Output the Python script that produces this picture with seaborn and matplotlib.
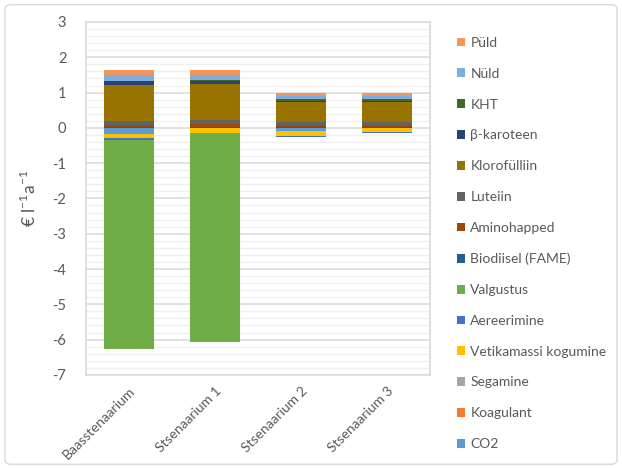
import numpy as np
import pandas as pd
import matplotlib
matplotlib.use("Agg")
import matplotlib.pyplot as plt
from matplotlib.patches import Patch, FancyBboxPatch
from matplotlib.ticker import MultipleLocator
import seaborn as sns

# Scenarios on the x axis
scenarios = ["Baasstenaarium", "Stsenaarium 1", "Stsenaarium 2", "Stsenaarium 3"]

# Cost / revenue components, € per litre per year (stacking order)
co2          = [-0.16, 0.00, -0.10, 0.00]
koagulant    = [0.00, 0.00, 0.00, 0.00]
segamine     = [0.00, 0.00, 0.00, 0.00]
vetikamass   = [-0.14, -0.14, -0.12, -0.12]
aereerimine  = [-0.03, 0.00, -0.04, -0.02]
valgustus    = [-5.94, -5.93, 0.00, 0.00]
biodiisel    = [0.02, 0.03, 0.02, 0.02]
aminohapped  = [0.075, 0.075, 0.06, 0.06]
luteiin      = [0.11, 0.11, 0.09, 0.09]
klorofyll    = [1.01, 1.02, 0.55, 0.55]
karoteen     = [0.10, 0.09, 0.05, 0.05]
kht          = [0.02, 0.03, 0.04, 0.04]
nuld         = [0.16, 0.15, 0.09, 0.09]
puld         = [0.14, 0.13, 0.10, 0.10]

series = [
    ("CO2", co2, "#5B9BD5"),
    ("Koagulant", koagulant, "#ED7D31"),
    ("Segamine", segamine, "#A5A5A5"),
    ("Vetikamassi kogumine", vetikamass, "#FFC000"),
    ("Aereerimine", aereerimine, "#4472C4"),
    ("Valgustus", valgustus, "#70AD47"),
    ("Biodiisel (FAME)", biodiisel, "#255E91"),
    ("Aminohapped", aminohapped, "#9E480E"),
    ("Luteiin", luteiin, "#636363"),
    ("Klorofülliin", klorofyll, "#997300"),
    ("β-karoteen", karoteen, "#264478"),
    ("KHT", kht, "#43682B"),
    ("Nüld", nuld, "#7CAFDD"),
    ("Püld", puld, "#F1975A"),
]

sns.set_theme(style="white")
plt.rcParams["font.family"] = ["Lato", "DejaVu Sans"]
text_col = "#595959"

fig = plt.figure(figsize=(6.22, 4.68), dpi=100)
ax = fig.add_axes([0.138, 0.199, 0.553, 0.754])

pos_base = np.zeros(len(scenarios))
neg_base = np.zeros(len(scenarios))
for name, vals, col in series:
    v = np.asarray(vals, dtype=float)
    bottom = np.where(v >= 0, pos_base, neg_base)
    df = pd.DataFrame({"scenario": scenarios, "value": v})
    sns.barplot(data=df, x="scenario", y="value", bottom=bottom, color=col,
                saturation=1, width=0.58, linewidth=0, errorbar=None, ax=ax,
                zorder=3)
    pos_base += np.where(v > 0, v, 0)
    neg_base += np.where(v < 0, v, 0)

ax.set_xlim(-0.5, 3.5)
ax.set_ylim(-7, 3)
ax.yaxis.set_major_locator(MultipleLocator(1))
ax.yaxis.set_minor_locator(MultipleLocator(0.2))
ax.grid(which="major", axis="y", color="#d9d9d9", linewidth=1.1, zorder=1)
ax.grid(which="minor", axis="y", color="#f0f0f0", linewidth=1.0, zorder=0)
ax.set_axisbelow(True)
for s in ax.spines.values():
    s.set_color("#d9d9d9")
    s.set_linewidth(1.1)
    s.set_visible(True)

ax.tick_params(axis="both", which="both", length=0, colors=text_col, labelsize=10.5)
ax.tick_params(axis="y", pad=14)
ax.set_yticks(range(-7, 4))
ax.set_yticklabels([str(t) for t in range(-7, 4)])
ax.set_xlabel("")
ax.set_xticks(range(len(scenarios)))
ax.set_xticklabels(scenarios, rotation=45, ha="right", rotation_mode="anchor",
                   color=text_col, fontsize=10)
ax.tick_params(axis="x", pad=7)
ax.set_ylabel(r"€ l$^{\mathregular{-1}}$a$^{\mathregular{-1}}$", color=text_col,
              fontsize=12.5, labelpad=10)

handles = [Patch(facecolor=col, edgecolor="none", label=name)
           for name, vals, col in reversed(series)]
fig.legend(handles=handles, loc="upper left", bbox_to_anchor=(0.725, 0.933),
           frameon=False, fontsize=10, labelcolor=text_col, handlelength=0.6,
           handleheight=0.6, handletextpad=0.4, labelspacing=1.355,
           borderaxespad=0)

fig.patches.append(FancyBboxPatch((0.008, 0.008), 0.984, 0.982,
                                  boxstyle="round,pad=0,rounding_size=0.01",
                                  transform=fig.transFigure, fill=False,
                                  edgecolor="#d9d9d9", linewidth=1.0))

fig.savefig("out.png", dpi=100, facecolor="white")
